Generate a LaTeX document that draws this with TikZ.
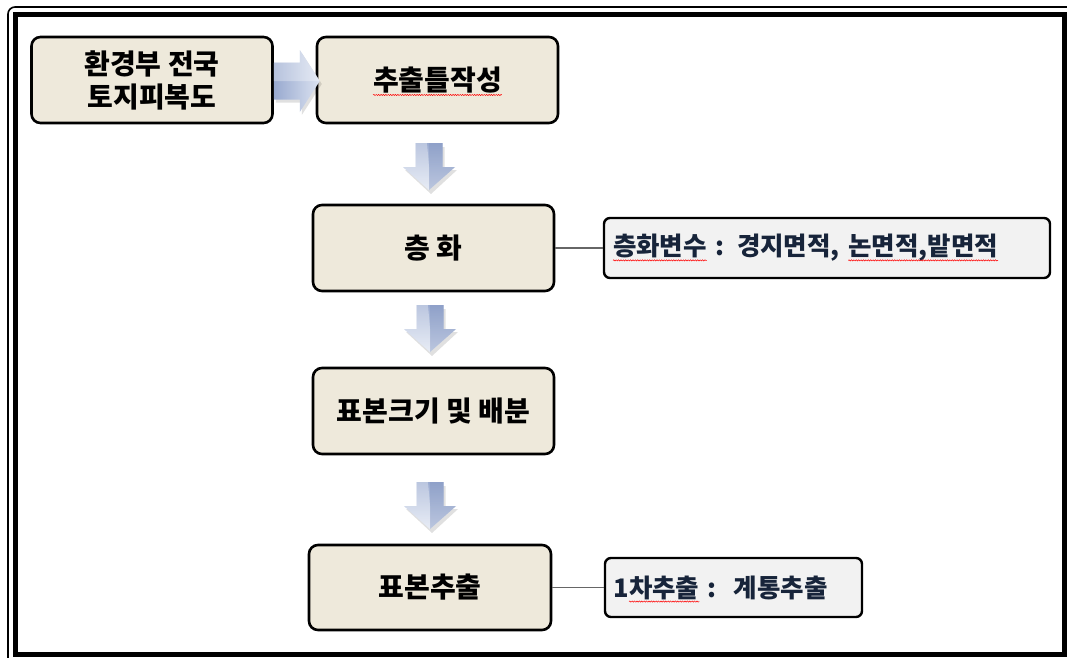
\documentclass[tikz,border=0pt]{standalone}
\usepackage{fontspec}
\newfontfamily\kr{Noto Sans CJK KR}
\usetikzlibrary{calc,decorations.pathmorphing}
\definecolor{boxfill}{HTML}{EEE9DB}
\definecolor{sidefill}{HTML}{F2F2F2}
\definecolor{sidetext}{HTML}{17243A}
\definecolor{arrdark}{HTML}{98A9CF}
\definecolor{arrlight}{HTML}{DCE3F1}
\definecolor{arrbevel}{HTML}{7F92BE}
\tikzset{
  wavyline/.style={draw=red, fill=none, sharp corners, line width=0.5pt, decorate,
    decoration={snake, amplitude=0.6pt, segment length=2.4pt}},
  mainbox/.style={draw=black, line width=2.6pt, rounded corners=9pt, fill=boxfill,
    minimum width=241pt, minimum height=86pt, align=center, inner sep=0pt,
    font=\kr\bfseries\fontsize{28}{33}\selectfont},
  sidebox/.style={draw=black, line width=2.4pt, rounded corners=6pt, fill=sidefill,
    minimum height=60pt, inner sep=0pt, text=sidetext,
    font=\kr\bfseries\fontsize{25.5}{30}\selectfont},
  link/.style={draw=black!60, line width=1.4pt},
  arrowshadow/.style={fill=black, opacity=0.12},
  pics/downblock/.style={code={
    \fill[arrowshadow] (-11.5,4) -- (15.5,4) -- (15.5,27) -- (28,27) -- (2,51) -- (-24,27) -- (-11.5,27) -- cycle;
    \path[top color=arrdark, bottom color=arrlight]
      (-13.5,0) -- (13.5,0) -- (13.5,24) -- (26,24) -- (0,47) -- (-26,24) -- (-13.5,24) -- cycle;
    \fill[arrbevel, opacity=0.35] (0,0) -- (13.5,0) -- (13.5,24) -- (26,24) -- (0,47) -- cycle;
    \fill[white, opacity=0.35] (-13.5,0) -- (-2,0) -- (0,24) -- (0,47) -- (-26,24) -- (-13.5,24) -- cycle;
  }},
  pics/rightblock/.style={code={
    \fill[arrowshadow] (2,-15.5) -- (28,-15.5) -- (28,-28) -- (48,3) -- (28,34) -- (28,21.5) -- (2,21.5) -- cycle;
    \path[left color=arrdark, right color=arrlight]
      (0,-18.5) -- (26,-18.5) -- (26,-31) -- (46,0) -- (26,31) -- (26,18.5) -- (0,18.5) -- cycle;
    \fill[white, opacity=0.3] (0,-18.5) -- (26,-18.5) -- (26,-31) -- (46,0) -- (0,0) -- cycle;
  }}
}
\newcommand\wavy[1]{\leavevmode\setbox0\hbox{#1}\copy0\tikz[overlay,baseline=0pt]{\path[wavyline] (-\wd0,-4.5pt) -- (0pt,-4.5pt);}}
\begin{document}
\begin{tikzpicture}[x=1pt,y=-1pt]
\useasboundingbox (0,0) rectangle (1067,657);
\clip (0,0) rectangle (1067,657);
\fill[white] (0,0) rectangle (1067,657);
% frame
\draw[line width=1.6pt, rounded corners=7pt] (8,680) -- (8,7) -- (1090,7);
\draw[line width=5pt] (15.5,14.5) rectangle (1064.5,654);
% boxes
\node[mainbox] (A) at (152,80) {환경부 전국\\토지피복도};
\node[mainbox] (B) at (437.5,80) {\wavy{추출틀작성}};
\node[mainbox] (C) at (433.5,248) {층 화};
\node[mainbox] (E) at (433.5,411) {표본크기 및 배분};
\node[mainbox, minimum height=85pt, minimum width=242pt] (F) at (430,587.5) {표본추출};
\node[sidebox, minimum width=446pt, text width=428pt, align=left] (D) at (827,248)
  {\wavy{층화변수} : 경지면적, \wavy{논면적,밭면적}};
\node[sidebox, minimum width=257pt, minimum height=59pt, text width=240pt, align=left] (G) at (733.5,587.5)
  {1\wavy{차추출} :\ \ 계통추출};
% connectors
\draw[link] (C.east) -- (D.west);
\draw[link] (F.east) -- (G.west);
% block arrows
\coordinate (r1) at ($(A.east)+(0,1)$);
\coordinate (d1) at (429,143);
\coordinate (d2) at (430,305);
\coordinate (d3) at (430,482);
\pic at (r1) {rightblock};
\pic at (d1) {downblock};
\pic at (d2) {downblock};
\pic at (d3) {downblock};
\end{tikzpicture}
\end{document}
